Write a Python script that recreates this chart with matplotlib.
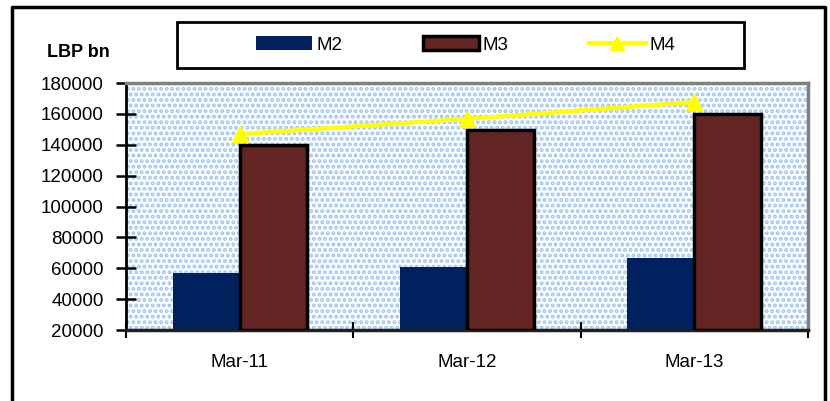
import numpy as np
import matplotlib
matplotlib.use("Agg")
import matplotlib.pyplot as plt
from matplotlib.patches import Rectangle, Patch
from matplotlib.lines import Line2D

plt.rcParams['font.family'] = ['Liberation Sans', 'DejaVu Sans']
plt.rcParams['hatch.linewidth'] = 2.0
plt.rcParams['hatch.color'] = '#9fc4ee'

# 数据
categories = ['Mar-11', 'Mar-12', 'Mar-13']
m2 = [57000, 61000, 66800]
m3 = [140000, 149500, 160000]
m4 = [147000, 156800, 167700]
yticks = [20000, 40000, 60000, 80000, 100000, 120000, 140000, 160000, 180000]

fs = 13.5

fig = plt.figure(figsize=(8.3, 4.01), dpi=100)
ax = fig.add_axes([0.1518, 0.177, 0.8217, 0.616])

x = np.arange(len(categories))
w = 0.295

# 点状背景
ax.add_patch(Rectangle((0, 0), 1, 1, transform=ax.transAxes, facecolor='white',
                       edgecolor='#9fc4ee', hatch='...', linewidth=0, zorder=0))

ax.bar(x - w / 2, np.array(m2) - 20000, w, bottom=20000, color='#00205e',
       edgecolor='none', zorder=2)
ax.bar(x + w / 2, np.array(m3) - 20000, w, bottom=20000, color='#632523',
       edgecolor='black', linewidth=2.5, zorder=3)
ax.plot(x, m4, color='#ffff00', lw=3, marker='^', markersize=11,
        markeredgecolor='#ffff00', zorder=4)

ax.set_xlim(-0.5, 2.5)
ax.set_ylim(20000, 180000)
ax.set_yticks(yticks)
ax.set_yticklabels([str(v) for v in yticks], fontsize=fs)
ax.set_xticks(x)
ax.set_xticklabels(categories, fontsize=fs)
ax.set_xticks([-0.5, 0.5, 1.5, 2.5], minor=True)
ax.tick_params(axis='x', which='major', length=0, pad=17)
ax.tick_params(axis='x', which='minor', direction='inout', length=12, width=1.5)
ax.tick_params(axis='y', direction='inout', length=14, width=1.8, pad=9)

ax.spines['left'].set_color('black')
ax.spines['left'].set_linewidth(2)
ax.spines['bottom'].set_color('#202020')
ax.spines['bottom'].set_linewidth(2.5)
ax.spines['top'].set_color('#808080')
ax.spines['top'].set_linewidth(2.5)
ax.spines['right'].set_color('#808080')
ax.spines['right'].set_linewidth(2.5)

fig.text(0.095, 0.87, 'LBP bn', fontsize=13, fontweight='bold',
         ha='center', va='center')

# 图例
handles = [Patch(facecolor='#00205e', edgecolor='none'),
           Patch(facecolor='#632523', edgecolor='black', linewidth=2.5),
           Line2D([], [], color='#ffff00', lw=3, marker='^', markersize=10)]
fig.legend(handles, ['M2', 'M3', 'M4'], loc='center',
           bbox_to_anchor=(0.561, 0.888), ncol=3, frameon=False, fontsize=fs,
           handlelength=3.0, handleheight=0.8, handletextpad=0.2,
           columnspacing=4.3)
fig.add_artist(Rectangle((177 / 830, 1 - 68 / 401), 567 / 830, 46 / 401,
                         transform=fig.transFigure, fill=False,
                         edgecolor='black', linewidth=2))

# 外框
fig.add_artist(Line2D([12 / 830, 12 / 830, 825 / 830, 825 / 830],
                      [0, 1 - 7 / 401, 1 - 7 / 401, 0],
                      transform=fig.transFigure, color='black', lw=2.5))

fig.savefig('out.png', dpi=100)
